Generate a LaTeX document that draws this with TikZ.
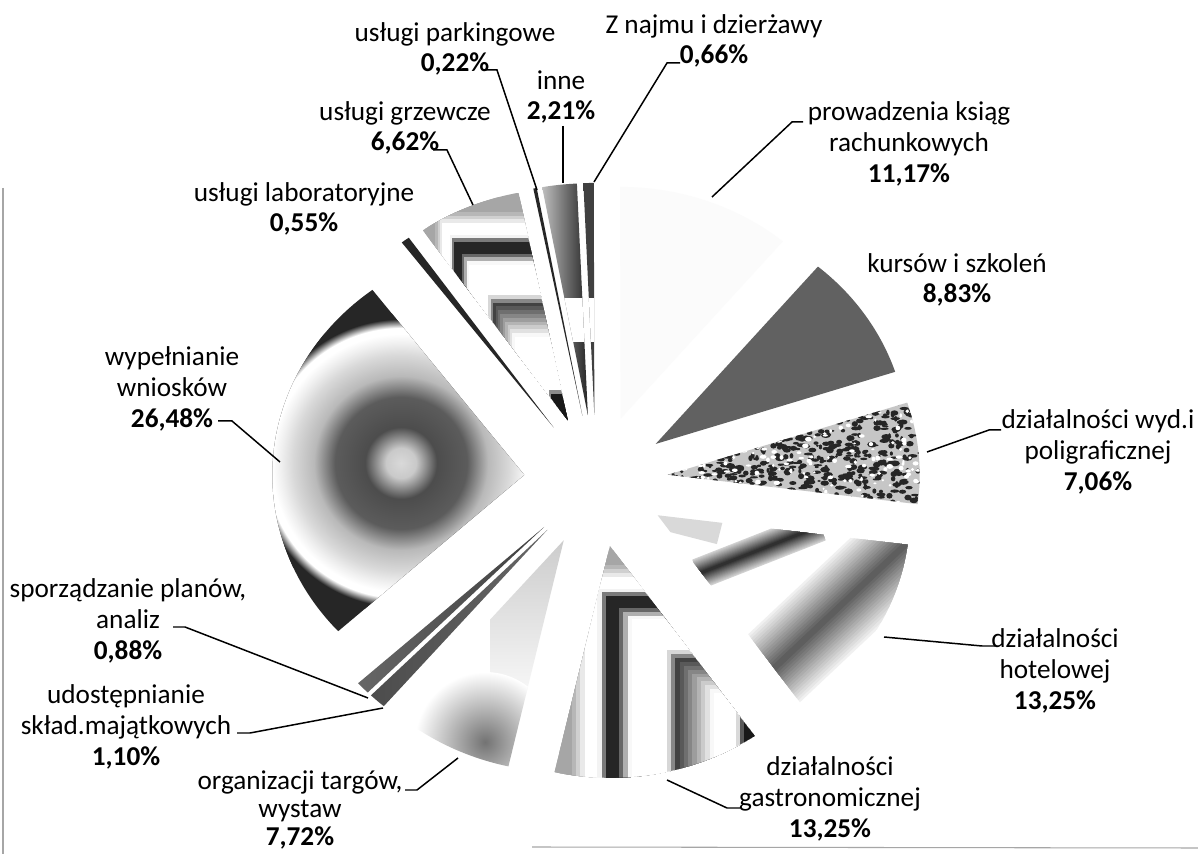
\documentclass[tikz,border=0pt]{standalone}
\usepackage{fontspec}
\setmainfont{Carlito}
\pgfdeclareradialshading{wypshade}{\pgfpointorigin}{color(0bp)=(gray!30); color(2.5bp)=(gray!42); color(6bp)=(black!70); color(11bp)=(black!64); color(14.5bp)=(gray!55); color(18bp)=(gray!30); color(20bp)=(gray!12); color(21.5bp)=(white); color(22.5bp)=(white); color(24bp)=(black!85); color(50bp)=(black!85)}
\tikzset{
    pie/.style = {shift={(596,481)}, yscale=-0.92},
    lbl/.style = {align=center, inner sep=0pt, font=\fontsize{15.5}{17.5}\selectfont},
    leader/.style = {draw=black, line width=0.85pt},
    frame/.style = {draw=gray!70, line width=0.6pt}
}
\newcommand\piewedge[2]{({92.5-1.8*(#1+#2)}:72) -- ++({92.5-3.6*#1}:252) arc[start angle={92.5-3.6*#1}, end angle={92.5-3.6*#2}, radius=252] -- cycle}
\newcommand\cornerfill[6]{%
    \foreach \k in {0,...,59} {%
        \pgfmathsetmacro\tv{(\k+0.5)/60}
        \pgfmathsetmacro\drk{35*max(0,min(1,(0.14-\tv)/0.06)) + 85*max(0,min(1,(\tv-0.19)/0.03,(0.31-\tv)/0.05)) + 75*max(0,min(1,(\tv-0.45)/0.04,(0.63-\tv)/0.14)) + #6*max(0,min(1,(\tv-#5)/0.03))}
        \fill[black!\drk] ({#1+\k/60*#3},{#2+\k/60*#4}) rectangle ({#1+#3+60},{#2+#4+60});
    }}

\begin{document}
\begin{tikzpicture}[x=0.02cm, y=-0.02cm]
    \path[use as bounding box, fill=white] (0,0) rectangle (1198,854);
    \draw[frame] (3,188) -- (3,854);
    \draw[frame] (532,847) -- (1198,848);

    \begin{scope}
        \clip[pie] \piewedge{0}{0.66};
        \shade[left color=black!75, middle color=white, right color=black!75] (582,180) rectangle (596,420);
        \fill[white] (575,298) rectangle (600,342);
    \end{scope}
    \fill[pie, gray!3] \piewedge{0.66}{11.83};
    \fill[pie, black!62] \piewedge{11.83}{20.66};
    \begin{scope}
        \clip[pie] \piewedge{20.66}{27.72};
        \fill[gray!45] (650,380) rectangle (940,520);
        \pgfmathsetseed{7}
        \foreach \k in {1,...,800}
            \fill[black!85] ({665+260*rnd},{395+115*rnd}) ellipse [x radius={1.5+3.5*rnd}, y radius={1+2*rnd}];
        \foreach \k in {1,...,220}
            \fill[white] ({665+260*rnd},{395+115*rnd}) ellipse [x radius={1+2.5*rnd}, y radius={1+1.5*rnd}];
    \end{scope}
    \begin{scope}
        \clip[pie] \piewedge{27.72}{40.97};
        \draw[gray!30, line width=0.5cm] (650,514) -- (720,532);
        \foreach \i [evaluate=\i as \bw using 0.62-0.04*\i, evaluate=\i as \bc using 18+4.5*\i] in {0,...,14}
            \draw[black!\bc, line width=\bw cm] (698,574) -- (820,526);
        \foreach \i [evaluate=\i as \bw using 1.7-0.105*\i, evaluate=\i as \bc using 6+3.8*\i] in {0,...,15}
            \draw[black!\bc, line width=\bw cm] (940,512) -- (735,705);
    \end{scope}
    \begin{scope}
        \clip[pie] \piewedge{40.97}{54.22};
        \cornerfill{550}{546}{259}{232}{0.72}{90}
    \end{scope}
    \begin{scope}
        \clip[pie] \piewedge{54.22}{61.94};
        \shade[top color=gray!40, bottom color=white] (490,540) rectangle (575,720);
        \shade[inner color=black!55, outer color=white] (485,742) circle (70);
    \end{scope}
    \shade[pie, left color=black!70, middle color=white, right color=black!60] \piewedge{61.94}{63.04};
    \shade[pie, left color=black!60, middle color=gray!20, right color=black!75] \piewedge{63.04}{63.92};
    \begin{scope}
        \clip[pie] \piewedge{63.92}{90.40};
        \fill[black!85] (240,260) rectangle (540,670);
        \shade[shading=wypshade] (401,463) circle (150);
    \end{scope}
    \fill[pie, black!85] \piewedge{90.40}{90.95};
    \begin{scope}
        \clip[pie] \piewedge{90.95}{97.57};
        \cornerfill{423}{193}{145}{227}{0.86}{90}
    \end{scope}
    \fill[pie, black!85] \piewedge{97.57}{97.79};
    \begin{scope}
        \clip[pie] \piewedge{97.79}{100};
        \shade[left color=gray!45, right color=black!88] (540,180) rectangle (590,420);
        \fill[white] (530,298) rectangle (595,342);
    \end{scope}

    \node[lbl] (parking) at (455,49) {usługi parkingowe\\\textbf{0,22\%}};
    \node[lbl] (najem) at (714,41) {Z najmu i dzierżawy\\\textbf{0,66\%}};
    \node[lbl] (inne) at (561,97) {inne\\\textbf{2,21\%}};
    \node[lbl] (grzew) at (405,128) {usługi grzewcze\\\textbf{6,62\%}};
    \node[lbl] (labor) at (304,209) {usługi laboratoryjne\\\textbf{0,55\%}};
    \node[lbl] (ksiegi) at (909,144) {prowadzenia ksiąg\\rachunkowych\\\textbf{11,17\%}};
    \node[lbl] (kursy) at (957,280) {kursów i szkoleń\\\textbf{8,83\%}};
    \node[lbl] (wyd) at (1098,452) {działalności wyd.i\\poligraficznej\\\textbf{7,06\%}};
    \node[lbl] (hotel) at (1055,671) {działalności\\hotelowej\\\textbf{13,25\%}};
    \node[lbl] (gastro) at (830,799) {działalności\\gastronomicznej\\\textbf{13,25\%}};
    \node[lbl, font=\fontsize{15.5}{16}\selectfont] (targi) at (300,810) {organizacji targów,\\wystaw\\\textbf{7,72\%}};
    \node[lbl] (sklad) at (126,727) {udostępnianie\\skład.majątkowych\\\textbf{1,10\%}};
    \node[lbl] (plany) at (128,621) {sporządzanie planów,\\analiz\\\textbf{0,88\%}};
    \node[lbl] (wnioski) at (172,389) {wypełnianie\\wniosków\\\textbf{26,48\%}};

    \coordinate (parkingA) at (483,70);
    \coordinate (parkingB) at (497,70);
    \coordinate (parkingC) at (537,190);
    \coordinate (najemA) at (680,63);
    \coordinate (najemB) at (667,63);
    \coordinate (najemC) at (594,182);
    \coordinate (inneA) at (563,126);
    \coordinate (inneC) at (563,183);
    \coordinate (grzewA) at (433,150);
    \coordinate (grzewB) at (447,150);
    \coordinate (grzewC) at (473,205);
    \coordinate (ksiegiA) at (803,122);
    \coordinate (ksiegiB) at (792,122);
    \coordinate (ksiegiC) at (712,197);
    \coordinate (wydA) at (1001,430);
    \coordinate (wydB) at (989,430);
    \coordinate (wydC) at (927,452);
    \coordinate (hotelA) at (995,646);
    \coordinate (hotelB) at (982,646);
    \coordinate (hotelC) at (884,637);
    \coordinate (gastroA) at (740,808);
    \coordinate (gastroB) at (727,808);
    \coordinate (gastroC) at (667,780);
    \coordinate (targiA) at (405,790);
    \coordinate (targiB) at (417,790);
    \coordinate (targiC) at (458,758);
    \coordinate (skladA) at (237,733);
    \coordinate (skladB) at (250,733);
    \coordinate (skladC) at (383,708);
    \coordinate (planyA) at (173,627);
    \coordinate (planyB) at (185,627);
    \coordinate (planyC) at (368,698);
    \coordinate (wnioskiA) at (218,421);
    \coordinate (wnioskiB) at (232,421);
    \coordinate (wnioskiC) at (280,462);

    \draw[leader] (parkingA) -- (parkingB) -- (parkingC);
    \draw[leader] (najemA) -- (najemB) -- (najemC);
    \draw[leader] (inneA) -- (inneC);
    \draw[leader] (grzewA) -- (grzewB) -- (grzewC);
    \draw[leader] (ksiegiA) -- (ksiegiB) -- (ksiegiC);
    \draw[leader] (wydA) -- (wydB) -- (wydC);
    \draw[leader] (hotelA) -- (hotelB) -- (hotelC);
    \draw[leader] (gastroA) -- (gastroB) -- (gastroC);
    \draw[leader] (targiA) -- (targiB) -- (targiC);
    \draw[leader] (skladA) -- (skladB) -- (skladC);
    \draw[leader] (planyA) -- (planyB) -- (planyC);
    \draw[leader] (wnioskiA) -- (wnioskiB) -- (wnioskiC);
\end{tikzpicture}
\end{document}
